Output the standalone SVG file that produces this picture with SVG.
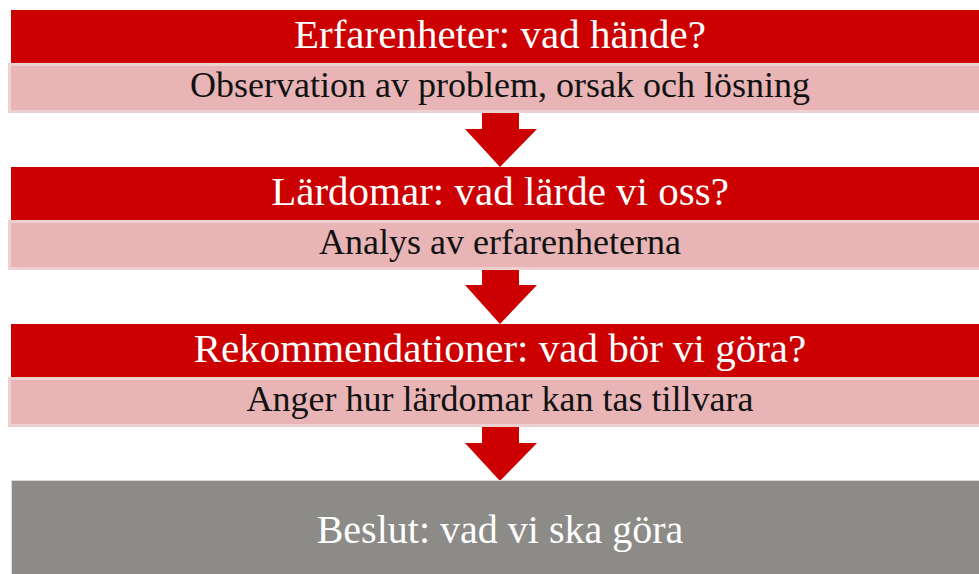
<svg xmlns="http://www.w3.org/2000/svg" width="979" height="574" viewBox="0 0 979 574">
<defs>
<style>
.hdr{fill:#CC0000}
.sub{fill:#E8B4B5;stroke:#EFD0D1;stroke-width:3}
.fin{fill:#8C8B87;stroke:#D9D9D7;stroke-width:1}
.arr{fill:#CC0000}
.t1{font-family:"Liberation Serif","Times New Roman",serif;font-size:41px;fill:#FFFFFF;text-anchor:middle}
.t2{font-family:"Liberation Serif","Times New Roman",serif;font-size:36px;fill:#111111;text-anchor:middle}
.t3{font-family:"Liberation Serif","Times New Roman",serif;font-size:40px;fill:#FFFFFF;text-anchor:middle}
</style>
</defs>
<g id="connectors">
<path class="arr" d="M482,113 H519 V129 H537 L500,167 L465,129 H482 Z"/>
<path class="arr" d="M482,269 H519 V285 H537 L500,324 L465,285 H482 Z"/>
<path class="arr" d="M482,427 H519 V443 H537 L500,481 L465,443 H482 Z"/>
</g>
<g id="node1">
<rect class="hdr" x="11" y="10" width="970" height="53"/>
<rect class="sub" x="9.5" y="64.5" width="972" height="47"/>
<text class="t1" x="500" y="48">Erfarenheter: vad hände?</text>
<text class="t2" x="500" y="97">Observation av problem, orsak och lösning</text>
</g>
<g id="node2">
<rect class="hdr" x="11" y="167" width="970" height="53"/>
<rect class="sub" x="9.5" y="221.5" width="972" height="47"/>
<text class="t1" x="500" y="205">Lärdomar: vad lärde vi oss?</text>
<text class="t2" x="500" y="254">Analys av erfarenheterna</text>
</g>
<g id="node3">
<rect class="hdr" x="11" y="324" width="970" height="53"/>
<rect class="sub" x="9.5" y="378.5" width="972" height="47"/>
<text class="t1" x="500" y="362">Rekommendationer: vad bör vi göra?</text>
<text class="t2" x="500" y="411">Anger hur lärdomar kan tas tillvara</text>
</g>
<g id="node4">
<rect class="fin" x="11.5" y="480.5" width="970" height="100"/>
<text class="t3" x="500" y="543">Beslut: vad vi ska göra</text>
</g>
</svg>
